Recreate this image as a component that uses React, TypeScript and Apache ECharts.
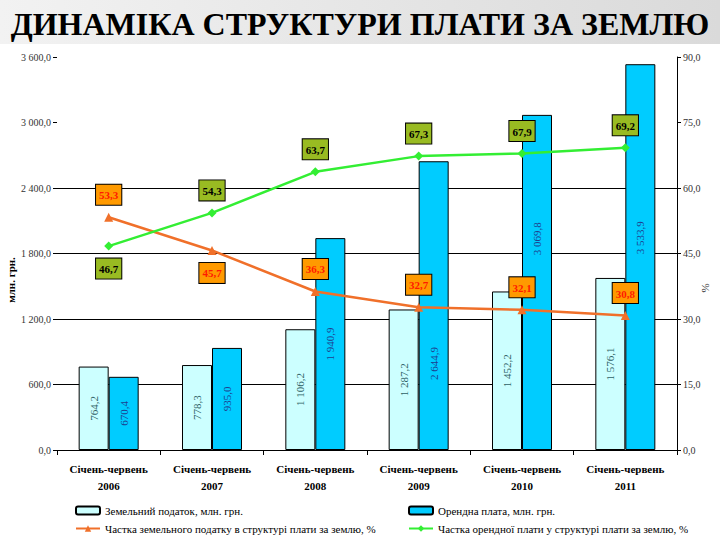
import React, { useEffect, useRef } from "react";
import * as echarts from "echarts";

const titleText = "ДИНАМІКА СТРУКТУРИ ПЛАТИ ЗА ЗЕМЛЮ";
const categories = [
  "Січень-червень\n2006",
  "Січень-червень\n2007",
  "Січень-червень\n2008",
  "Січень-червень\n2009",
  "Січень-червень\n2010",
  "Січень-червень\n2011",
];
const seriesNames = [
  "Земельний податок, млн. грн.",
  "Орендна плата, млн. грн.",
  "Частка земельного податку в структурі плати за землю, %",
  "Частка орендної плати у структурі плати за землю, %",
];
const landTax = [764.2, 778.3, 1106.2, 1287.2, 1452.2, 1576.1];
const rent = [670.4, 935.0, 1940.9, 2644.9, 3069.8, 3533.9];
const landShare = [53.3, 45.7, 36.3, 32.7, 32.1, 30.8];
const rentShare = [46.7, 54.3, 63.7, 67.3, 67.9, 69.2];
const leftAxisRange = [0, 3600, 600];
const gridLineRange = [0, 2400, 600];
const rightAxisRange = [0, 90, 15];
const leftAxisName = "млн. грн.";
const rightAxisName = "%";

// label placement choices (styling, not data)
const landShareLabelPos = ["top", "bottom", "top", "top", "top", "top"];
const rentShareLabelPos = ["bottom", "top", "top", "top", "top", "top"];
const rentLabelAnchor = [50, 50, 50, 70, 37, 45];

const FONT = "'Liberation Serif', 'Times New Roman', serif";

const PLOT_TOP = 57;
const PLOT_BOTTOM = 90;
const PLOT_H = 540 - PLOT_TOP - PLOT_BOTTOM;

const fmtThousands = (v: number) => {
  const [i, d] = v.toFixed(1).split(".");
  return i.replace(/\B(?=(\d{3})+(?!\d))/g, " ") + "," + d;
};
const fmtComma = (v: number) => v.toFixed(1).replace(".", ",");

export default function App() {
  const ref = useRef<HTMLDivElement>(null);
  useEffect(() => {
    if (!ref.current) return;
    const chart = echarts.init(ref.current, undefined, { renderer: "svg" });
    const legendText = { fontFamily: FONT, fontSize: 11, color: "#000" };
    const gridTop =
      PLOT_TOP + PLOT_H * (1 - gridLineRange[1] / leftAxisRange[1]);
    chart.setOption({
      animation: false,
      backgroundColor: "#fff",
      textStyle: { fontFamily: FONT },
      title: {
        text: titleText,
        left: "center",
        top: 3,
        textStyle: { fontFamily: FONT, fontSize: 32, fontWeight: "bold", color: "#000" },
      },
      graphic: [
        {
          type: "rect",
          left: 0,
          top: 0,
          z: -10,
          shape: { width: 720, height: 44 },
          style: {
            fill: new echarts.graphic.LinearGradient(0, 0, 1, 0, [
              { offset: 0, color: "#f2f2f2" },
              { offset: 1, color: "#dadada" },
            ]),
          },
        },
        {
          type: "text",
          x: 11,
          y: 280,
          rotation: Math.PI / 2,
          style: {
            text: leftAxisName,
            fontFamily: FONT,
            fontSize: 11,
            fontWeight: "bold",
            fill: "#000",
            align: "center",
            verticalAlign: "middle",
          },
        },
        {
          type: "text",
          x: 705,
          y: 288,
          rotation: Math.PI / 2,
          style: {
            text: rightAxisName,
            fontFamily: FONT,
            fontSize: 11,
            fill: "#333",
            align: "center",
            verticalAlign: "middle",
          },
        },
      ],
      legend: [
        { data: [seriesNames[0]], left: 70, top: 500, itemWidth: 24, itemHeight: 8, textStyle: legendText },
        { data: [seriesNames[1]], left: 403, top: 500, itemWidth: 24, itemHeight: 8, textStyle: legendText },
        { data: [seriesNames[2]], left: 70, top: 518, itemWidth: 24, itemHeight: 8, textStyle: legendText },
        { data: [seriesNames[3]], left: 403, top: 518, itemWidth: 24, itemHeight: 8, textStyle: legendText },
      ],
      grid: [
        { left: 57, right: 43, top: PLOT_TOP, bottom: PLOT_BOTTOM },
        { left: 57, right: 43, top: gridTop, bottom: PLOT_BOTTOM },
      ],
      xAxis: [
        {
          type: "category",
          gridIndex: 0,
          data: categories,
          boundaryGap: true,
          axisLine: { show: true, lineStyle: { color: "#000", width: 1 } },
          axisTick: { show: true, length: 5, lineStyle: { color: "#000" } },
          axisLabel: {
            interval: 0,
            fontFamily: FONT,
            fontSize: 11,
            fontWeight: "bold",
            color: "#000",
            lineHeight: 17,
            margin: 10,
          },
          z: 3,
        },
        {
          type: "category",
          gridIndex: 1,
          data: categories,
          show: false,
        },
      ],
      yAxis: [
        {
          type: "value",
          gridIndex: 0,
          min: leftAxisRange[0],
          max: leftAxisRange[1],
          interval: leftAxisRange[2],
          axisLine: { show: false },
          axisTick: { show: true, length: 4, lineStyle: { color: "#000" } },
          axisLabel: {
            formatter: fmtThousands,
            fontFamily: FONT,
            fontSize: 10,
            color: "#333",
            margin: 6,
          },
          splitLine: { show: false },
        },
        {
          type: "value",
          gridIndex: 0,
          position: "right",
          min: rightAxisRange[0],
          max: rightAxisRange[1],
          interval: rightAxisRange[2],
          axisLine: { show: true, lineStyle: { color: "#000", width: 1 } },
          axisTick: { show: true, length: 4, lineStyle: { color: "#000" } },
          axisLabel: {
            formatter: fmtComma,
            fontFamily: FONT,
            fontSize: 10,
            color: "#333",
            margin: 6,
          },
          splitLine: { show: false },
        },
        {
          type: "value",
          gridIndex: 1,
          min: gridLineRange[0],
          max: gridLineRange[1],
          interval: gridLineRange[2],
          axisLine: { show: false },
          axisTick: { show: false },
          axisLabel: { show: false },
          splitLine: { show: true, lineStyle: { color: "#000", width: 1 } },
        },
      ],
      series: [
        {
          name: seriesNames[0],
          type: "bar",
          data: landTax,
          barWidth: 30,
          barGap: "0%",
          itemStyle: { color: "#CCFFFF", borderColor: "#000", borderWidth: 1 },
          label: {
            show: true,
            position: "inside",
            rotate: 90,
            formatter: (p: any) => fmtThousands(p.value),
            fontFamily: FONT,
            fontSize: 11,
            color: "#2F5F66",
          },
          z: 2,
        },
        {
          name: seriesNames[1],
          type: "bar",
          data: rent.map((v, i) => ({
            value: v,
            label: { position: ["50%", rentLabelAnchor[i] + "%"] },
          })),
          barWidth: 30,
          itemStyle: { color: "#00CCFF", borderColor: "#000", borderWidth: 1 },
          label: {
            show: true,
            rotate: 90,
            align: "center",
            verticalAlign: "middle",
            formatter: (p: any) => fmtThousands(p.value),
            fontFamily: FONT,
            fontSize: 11,
            color: "#1F3F8F",
          },
          z: 2,
        },
        {
          name: seriesNames[2],
          type: "line",
          yAxisIndex: 1,
          data: landShare.map((v, i) => ({ value: v, label: { position: landShareLabelPos[i] } })),
          symbol: "triangle",
          symbolSize: 9,
          lineStyle: { color: "#F0702A", width: 2.5 },
          itemStyle: { color: "#F0702A" },
          label: {
            show: true,
            formatter: (p: any) => fmtComma(p.value),
            fontFamily: FONT,
            fontSize: 11,
            fontWeight: "bold",
            color: "#FF1A00",
            backgroundColor: "#FF9A00",
            borderColor: "#000",
            borderWidth: 1,
            padding: [5, 3, 4, 3],
            distance: 8,
          },
          z: 5,
        },
        {
          name: seriesNames[3],
          type: "line",
          yAxisIndex: 1,
          data: rentShare.map((v, i) => ({ value: v, label: { position: rentShareLabelPos[i] } })),
          symbol: "diamond",
          symbolSize: 9,
          lineStyle: { color: "#33EE33", width: 2.5 },
          itemStyle: { color: "#33EE33" },
          label: {
            show: true,
            formatter: (p: any) => fmtComma(p.value),
            fontFamily: FONT,
            fontSize: 11,
            fontWeight: "bold",
            color: "#000",
            backgroundColor: "#99BB22",
            borderColor: "#000",
            borderWidth: 1,
            padding: [5, 3, 4, 3],
            distance: 8,
          },
          z: 5,
        },
      ],
    });
    return () => chart.dispose();
  }, []);
  return (
    <div
      ref={ref}
      style={{ position: "fixed", left: 0, top: 0, width: 720, height: 540 }}
    />
  );
}
